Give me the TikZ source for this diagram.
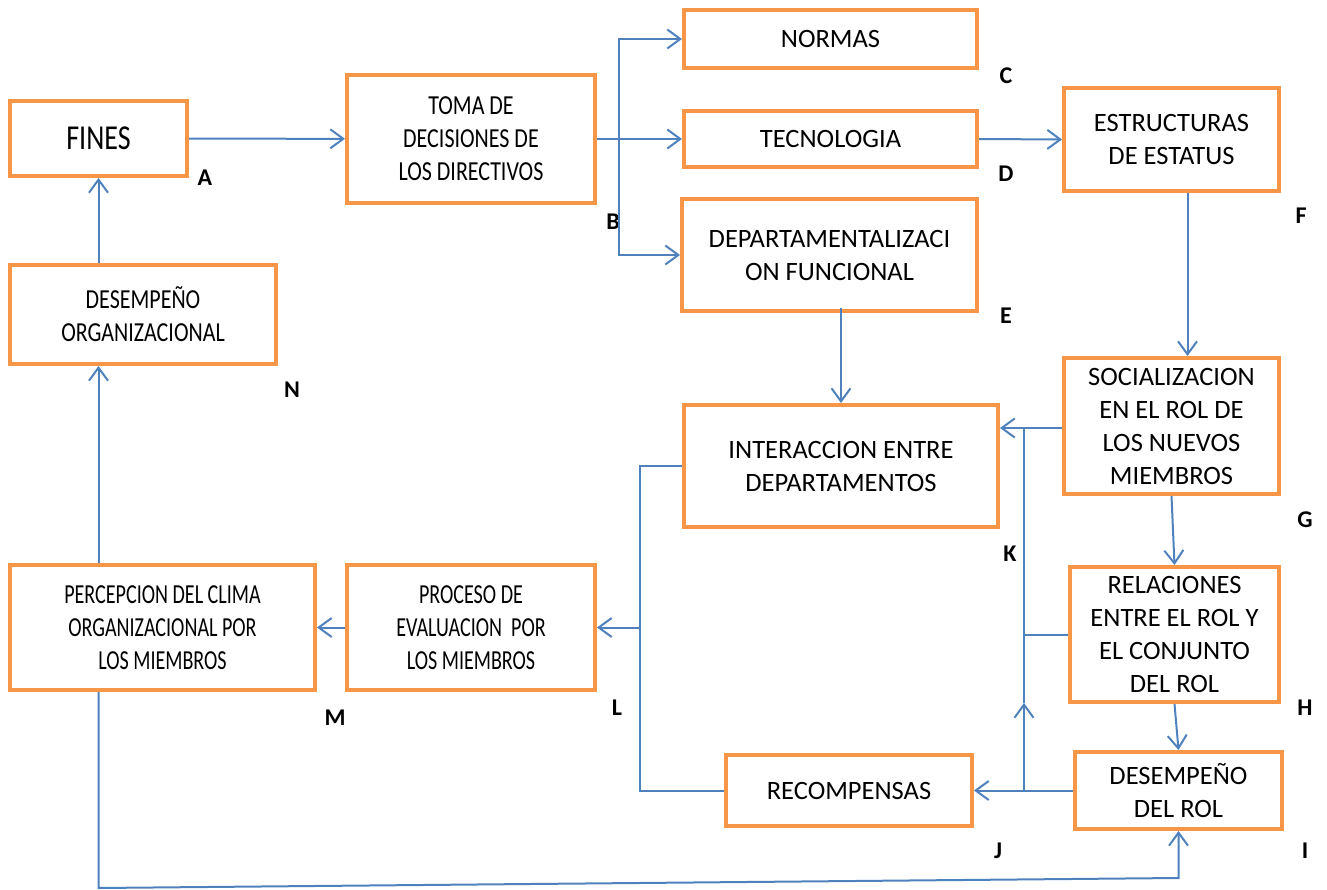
\documentclass[tikz,border=0pt]{standalone}
\usepackage{fontspec}
\setmainfont{Carlito}
\newfontfamily\narrowfont{Carlito}[FakeStretch=0.8]
\newfontfamily\tightfont{Carlito}[FakeStretch=0.73]
\usetikzlibrary{arrows.meta}
\definecolor{boxorange}{HTML}{F79646}
\definecolor{lineblue}{HTML}{4F81BD}
\begin{document}
\begin{tikzpicture}[x=1pt, y=-1pt,
		box/.style={draw=boxorange, line width=4pt, fill=white, inner sep=0pt, align=center, font=\fontsize{26.5}{33}\selectfont},
		narrowbox/.style={box, font=\narrowfont\fontsize{27.5}{33}\selectfont},
		tightbox/.style={box, font=\tightfont\fontsize{27.5}{33}\selectfont},
		letter/.style={font=\bfseries\fontsize{24}{28}\selectfont},
		link/.style={draw=lineblue, line width=2pt},
		flow/.style={link, -{Straight Barb[length=13pt, width=19pt]}}]
				\useasboundingbox (0,0) rectangle (1327,890);
				\node[narrowbox, minimum width=177, minimum height=75, font=\narrowfont\fontsize{35}{40}\selectfont] (fines) at (98.5, 138.5) {FINES};
				\node[narrowbox, minimum width=248, minimum height=128] (toma) at (471, 139) {TOMA DE\\DECISIONES DE\\LOS DIRECTIVOS};
				\node[box, minimum width=293, minimum height=58] (normas) at (830.5, 39) {NORMAS};
				\node[box, minimum width=293, minimum height=56] (tecno) at (830.5, 139) {TECNOLOGIA};
				\node[box, minimum width=295, minimum height=112] (depart) at (829.5, 255) {DEPARTAMENTALIZACI\\ON FUNCIONAL};
				\node[box, minimum width=215, minimum height=103] (estruc) at (1171.5, 139.5) {ESTRUCTURAS\\DE ESTATUS};
				\node[box, minimum width=215, minimum height=136] (social) at (1171.5, 426) {SOCIALIZACION\\EN EL ROL DE\\LOS NUEVOS\\MIEMBROS};
				\node[box, minimum width=314, minimum height=122] (interac) at (841, 466) {INTERACCION ENTRE\\DEPARTAMENTOS};
				\node[box, minimum width=209, minimum height=135] (relac) at (1174.5, 634.5) {RELACIONES\\ENTRE EL ROL Y\\EL CONJUNTO\\DEL ROL};
				\node[box, minimum width=207, minimum height=77] (desrol) at (1178.5, 790.5) {DESEMPEÑO\\DEL ROL};
				\node[box, minimum width=246, minimum height=71] (recomp) at (849, 790.5) {RECOMPENSAS};
				\node[tightbox, minimum width=248, minimum height=125] (proceso) at (471, 627.5) {PROCESO DE\\EVALUACION\ \ POR\\LOS MIEMBROS};
				\node[tightbox, minimum width=305, minimum height=125] (percep) at (162.5, 627.5) {PERCEPCION DEL CLIMA\\ORGANIZACIONAL POR\\LOS MIEMBROS};
				\node[narrowbox, minimum width=266, minimum height=99] (desorg) at (143, 314.5) {DESEMPEÑO\\ORGANIZACIONAL};

				\node[letter] (lblA) at (205, 178) {A};
				\node[letter] (lblB) at (613, 222) {B};
				\node[letter] (lblC) at (1006, 76) {C};
				\node[letter] (lblD) at (1006, 174) {D};
				\node[letter] (lblE) at (1006, 316) {E};
				\node[letter] (lblF) at (1301, 216) {F};
				\node[letter] (lblG) at (1305, 520) {G};
				\node[letter] (lblH) at (1305, 708) {H};
				\node[letter] (lblI) at (1305, 851) {I};
				\node[letter] (lblJ) at (998, 851) {J};
				\node[letter] (lblK) at (1010, 554) {K};
				\node[letter] (lblL) at (617, 708) {L};
				\node[letter] (lblM) at (335, 718) {M};
				\node[letter] (lblN) at (292, 390) {N};

				\coordinate (bsplit) at (619, 139);
				\coordinate (ktop) at (1024, 428);
				\coordinate (kmid) at (1024, 703);
				\coordinate (kbot) at (1024, 790.5);
				\coordinate (lsplit) at (640, 627.5);
				\coordinate (lcorner) at (640, 790.5);
				\coordinate (loopleft) at (98.5, 888);
				\coordinate (loopright) at (1178.5, 878);

				\draw[flow] (fines) -- (toma);
				\draw[flow] (toma.east) -- (tecno.west);
				\draw[flow] (bsplit) |- (normas.west);
				\draw[flow] (bsplit) |- (depart.west);
				\draw[flow] (tecno.east) -- (estruc.west);
				\draw[flow] ([xshift=16]estruc.south) -- ([xshift=16]social.north);
				\draw[flow] ([yshift=5]interac.north |- depart.south) -- (interac.north);
				\draw[flow] (social.west |- ktop) -- (interac.east |- ktop);
				\draw[flow] (social.south) -- (relac.north);
				\draw[flow] (relac.south) -- (desrol.north);
				\draw[flow] (desrol.west) -- (recomp.east);
				\draw[flow] (kbot) -- (kmid);
				\draw[link] (kmid) -- (ktop);
				\draw[link] (relac.west) -- (relac.west -| kbot);
				\draw[link] (interac.west) -| (lcorner) -- (recomp.west);
				\draw[flow] (lsplit) -- (proceso.east);
				\draw[flow] (proceso.west) -- (percep.east);
				\draw[flow] (percep.north -| fines.south) -- (desorg.south -| fines.south);
				\draw[flow] (desorg.north -| fines.south) -- (fines.south);
				\draw[flow] (percep.south -| fines.south) -- (loopleft) -- (loopright) -- (desrol.south);
			\end{tikzpicture}
\end{document}
